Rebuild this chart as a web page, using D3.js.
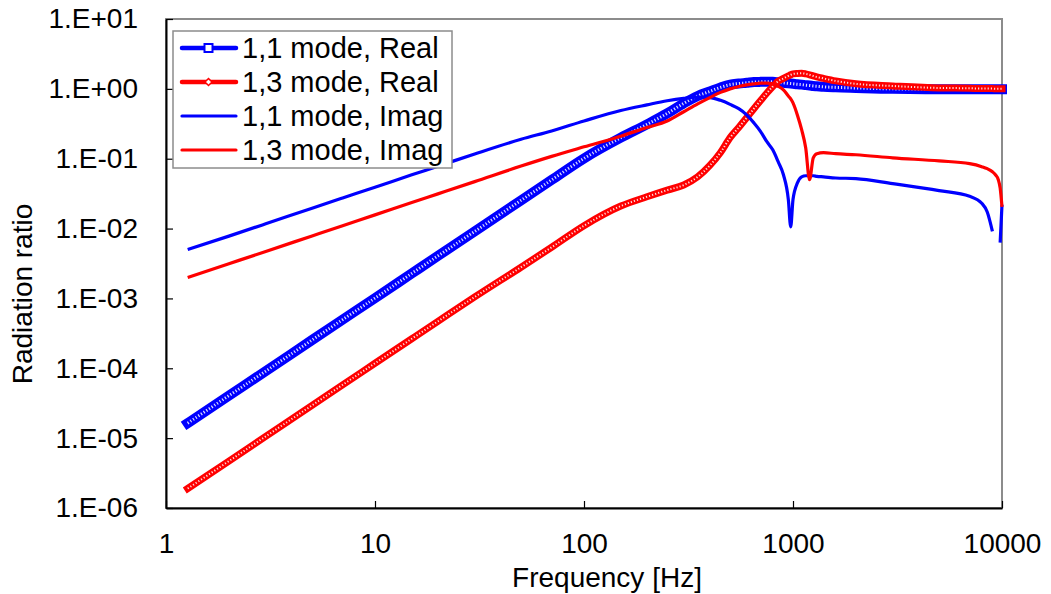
<!DOCTYPE html>
<html>
<head>
<meta charset="utf-8">
<script src="https://cdn.jsdelivr.net/npm/d3@7"></script>
<style>
  body { margin: 0; background: #fff; }
  text { font-family: "Liberation Sans", Arial, sans-serif; fill: #000; }
</style>
</head>
<body>
<div class="canvas"></div>
<script>
// frequencies [Hz] shared by all four series
var freq = [1.27, 2, 3, 5, 7, 10, 15, 20, 30, 50, 70, 100, 150, 200, 250, 300, 350, 400, 450, 500,
            550, 600, 650, 700, 750, 800, 850, 900, 950, 975, 1000, 1050, 1100, 1150, 1200, 1250, 1300, 1400, 1600, 2000,
            3000, 5000, 7000, 8000, 8500, 9000, 9300, 9600, 9800, 10000];

var mode11Real = [1.64e-5, 4.06e-5, 9.1e-5, 2.54e-4, 4.97e-4, 1.01e-3, 2.28e-3, 4.06e-3, 9.1e-3, 0.0254, 0.0497, 0.101, 0.20, 0.31, 0.445, 0.62, 0.79, 0.92, 1.05, 1.15,
                  1.19, 1.22, 1.25, 1.26, 1.265, 1.26, 1.24, 1.22, 1.20, 1.19, 1.18, 1.16, 1.15, 1.13, 1.12, 1.10, 1.09, 1.07, 1.05, 1.03,
                  1.00, 0.99, 0.99, 0.99, 0.99, 0.99, 0.99, 0.99, 0.99, 0.99];

var mode13Real = [1.9e-6, 4.7e-6, 1.06e-5, 2.95e-5, 5.8e-5, 1.18e-4, 2.65e-4, 4.7e-4, 1.05e-3, 2.8e-3, 5.4e-3, 0.011, 0.021, 0.0285, 0.0355, 0.042, 0.055, 0.08, 0.123, 0.20,
                  0.28, 0.385, 0.52, 0.68, 0.87, 1.08, 1.29, 1.41, 1.53, 1.59, 1.64, 1.66, 1.67, 1.64, 1.59, 1.53, 1.48, 1.41, 1.30, 1.18,
                  1.10, 1.03, 1.02, 1.01, 1.01, 1.01, 1.0, 1.0, 1.0, 1.0];

var mode11Imag = [0.0050, 0.0078, 0.0117, 0.0196, 0.0274, 0.039, 0.0588, 0.078, 0.117, 0.19, 0.25, 0.347, 0.49, 0.59, 0.675, 0.73, 0.76, 0.75, 0.685, 0.60,
                  0.52, 0.425, 0.326, 0.245, 0.175, 0.134, 0.090, 0.059, 0.026, 0.0106, 0.026, 0.045, 0.055, 0.057, 0.057, 0.057, 0.056, 0.055, 0.053, 0.052,
                  0.044, 0.035, 0.029, 0.023, 0.0173, 0.0091, null, null, 0.0063, 0.022];

var mode13Imag = [0.0020, 0.00314, 0.0047, 0.00785, 0.011, 0.0157, 0.0236, 0.0314, 0.047, 0.0785, 0.108, 0.148, 0.21, 0.28, 0.346, 0.47, 0.61, 0.75, 0.89, 1.0,
                  1.08, 1.14, 1.18, 1.21, 1.21, 1.18, 1.09, 0.97, 0.79, 0.72, 0.63, 0.42, 0.26, 0.143, 0.050, 0.103, 0.118, 0.122, 0.118, 0.114,
                  0.103, 0.093, 0.085, 0.077, 0.072, 0.065, 0.059, 0.050, 0.038, 0.0205];

var xTicks = [1, 10, 100, 1000, 10000];
var xTickLabels = ["1", "10", "100", "1000", "10000"];
var yTicks = [1e-6, 1e-5, 1e-4, 1e-3, 1e-2, 1e-1, 1, 10];
var yTickLabels = ["1.E-06", "1.E-05", "1.E-04", "1.E-03", "1.E-02", "1.E-01", "1.E+00", "1.E+01"];

var seriesNames = ["1,1 mode, Real", "1,3 mode, Real", "1,1 mode, Imag", "1,3 mode, Imag"];

var svg, x, y;

function init() {
    var width = 1051,
        height = 594;
    var plot = {left: 166, right: 1002, top: 19, bottom: 508};

    svg = d3.select(".canvas").append("svg")
            .attr("width", width)
            .attr("height", height);

    x = d3.scaleLog().domain([1, 10000]).range([plot.left, plot.right]);
    y = d3.scaleLog().domain([1e-6, 10]).range([plot.bottom, plot.top]);

    // gray frame for top/right edges
    svg.append("rect")
       .attr("x", plot.left).attr("y", plot.top)
       .attr("width", plot.right - plot.left).attr("height", plot.bottom - plot.top)
       .attr("fill", "none").attr("stroke", "#8c8c8c").attr("stroke-width", 2);

    var yAxis = d3.axisLeft(y)
        .tickValues(yTicks)
        .tickFormat(function (d, i) { return yTickLabels[i]; })
        .tickSizeInner(-7).tickSizeOuter(0).tickPadding(28);
    var gy = svg.append("g")
        .attr("transform", "translate(" + plot.left + ",0)")
        .call(yAxis);

    var xAxis = d3.axisBottom(x)
        .tickValues(xTicks)
        .tickFormat(function (d, i) { return xTickLabels[i]; })
        .tickSizeInner(-7).tickSizeOuter(0).tickPadding(25);
    var gx = svg.append("g")
        .attr("transform", "translate(0," + plot.bottom + ")")
        .call(xAxis);

    [gx, gy].forEach(function (g) {
        g.select(".domain").attr("stroke", "#000").attr("stroke-width", 2);
        g.selectAll(".tick line").attr("stroke", "#000").attr("stroke-width", 1.2);
        g.selectAll(".tick text")
         .style("font-family", "'Liberation Sans', Arial, sans-serif")
         .style("font-size", "28px");
    });

    svg.append("text")
       .attr("transform", "translate(32,294) rotate(-90)")
       .attr("text-anchor", "middle")
       .style("font-size", "28px")
       .text("Radiation ratio");

    svg.append("text")
       .attr("x", 607)
       .attr("y", 587)
       .attr("text-anchor", "middle")
       .style("font-size", "28px")
       .text("Frequency [Hz]");

    svg.append("clipPath").attr("id", "clip")
        .append("rect")
        .attr("x", plot.left - 8).attr("y", plot.top)
        .attr("width", plot.right - plot.left + 16).attr("height", plot.bottom - plot.top);

    var g = svg.append("g").attr("clip-path", "url(#clip)");

    // marker series: dense hollow markers drawn as a thick band with a broken white core
    drawMarked(g, mode11Real, "#0000ff", 10, 3);
    drawMarked(g, mode13Real, "#ff0000", 7, 2);
    drawPlain(g, mode11Imag, "#0000ff", 3.2);
    drawPlain(g, mode13Imag, "#ff0000", 3.2);

    drawLegend();
}

function makeLine() {
    return d3.line()
        .defined(function (d) { return d[1] != null && d[1] > 0; })
        .x(function (d) { return x(d[0]); })
        .y(function (d) { return y(d[1]); })
        .curve(d3.curveMonotoneX);
}

function pairs(values) {
    return freq.map(function (f, i) { return [f, values[i]]; });
}

function drawMarked(g, values, color, band, core) {
    var line = makeLine();
    g.append("path")
     .attr("d", line(pairs(values)))
     .attr("fill", "none")
     .attr("stroke", color)
     .attr("stroke-width", band)
     .attr("stroke-linecap", "square")
     .attr("stroke-linejoin", "round");
    g.append("path")
     .attr("d", line(pairs(values)))
     .attr("fill", "none")
     .attr("stroke", "#fff")
     .attr("stroke-width", core)
     .attr("stroke-dasharray", "1.2 2")
     .attr("opacity", 0.85);
}

function drawPlain(g, values, color, w) {
    g.append("path")
     .attr("d", makeLine()(pairs(values)))
     .attr("fill", "none")
     .attr("stroke", color)
     .attr("stroke-width", w)
     .attr("stroke-linejoin", "round");
}

function drawLegend() {
    var lg = svg.append("g").attr("transform", "translate(173,31)");
    lg.append("rect")
      .attr("width", 279).attr("height", 137)
      .attr("fill", "#fff").attr("stroke", "#8c8c8c").attr("stroke-width", 1.5);

    var colors = ["#0000ff", "#ff0000", "#0000ff", "#ff0000"];
    var widths = [4.5, 4.5, 3.2, 3.2];
    var rowY = [17, 51, 85, 119];

    seriesNames.forEach(function (name, i) {
        lg.append("line")
          .attr("x1", 9).attr("x2", 63)
          .attr("y1", rowY[i]).attr("y2", rowY[i])
          .attr("stroke", colors[i]).attr("stroke-width", widths[i])
          .attr("stroke-linecap", "round");
        if (i == 0) {
            lg.append("rect")
              .attr("x", 31.5).attr("y", rowY[i] - 4)
              .attr("width", 8).attr("height", 8)
              .attr("fill", "#fff").attr("stroke", colors[i]).attr("stroke-width", 2);
        } else if (i == 1) {
            lg.append("path")
              .attr("d", "M35.5," + (rowY[i] - 3.5) + " l3.5,3.5 l-3.5,3.5 l-3.5,-3.5 z")
              .attr("fill", "#fff").attr("stroke", colors[i]).attr("stroke-width", 1.5);
        }
        lg.append("text")
          .attr("x", 69).attr("y", rowY[i])
          .attr("dy", "0.36em")
          .style("font-size", "29px")
          .text(name);
    });
}

init();
</script>
</body>
</html>
